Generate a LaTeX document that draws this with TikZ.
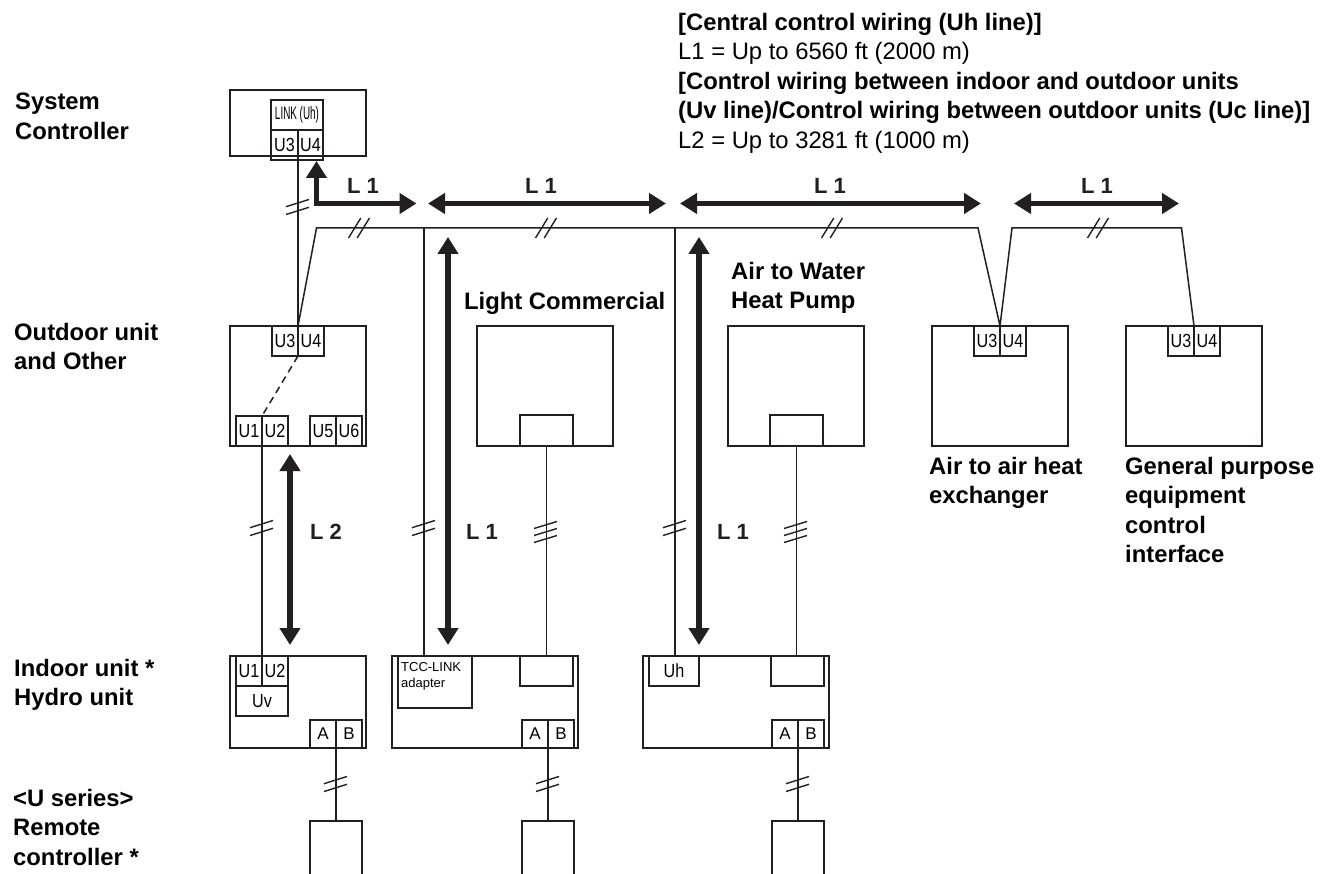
\documentclass[tikz,border=0pt]{standalone}
\usepackage{fontspec}
\setmainfont{Liberation Sans}
\newfontfamily\termfont[FakeStretch=0.85]{Liberation Sans}
\newfontfamily\linkfont[FakeStretch=0.55]{Liberation Sans}
\usetikzlibrary{arrows.meta}
\definecolor{inkdark}{HTML}{231F20}
\tikzset{
    unitbox/.style={draw=inkdark,line width=1.4pt,anchor=north west,inner sep=0pt,outer sep=0pt,minimum width=#1},
    unitbox/.default=136pt,
    termbox/.style={draw=inkdark,line width=1.3pt,anchor=north west,inner sep=0pt,outer sep=0pt,minimum width=26pt,minimum height=30pt,font=\termfont\fontsize{19}{22}\selectfont},
    plugbox/.style={termbox,minimum height=28pt,font=\fontsize{17}{20}\selectfont},
    wire/.style={inkdark,line width=1.5pt},
    tick/.style={inkdark,line width=1.4pt},
    spanarrow/.style={inkdark,line width=5.5pt,<->,>={Triangle[length=17pt,width=20pt]}},
    spanlabel/.style={inkdark,inner sep=0pt,font=\fontsize{22}{26}\selectfont\bfseries},
    notetext/.style={inner sep=0pt,anchor=north west,align=left,font=\fontsize{23.8}{29.5}\selectfont},
    rowlabel/.style={notetext,font=\fontsize{23.8}{29.5}\selectfont\bfseries},
}
\begin{document}
\begin{tikzpicture}[x=1pt,y=-1pt]
    \useasboundingbox (0,0) rectangle (1330,874);
    % text block
    \node[notetext] (noteText) at (678,13) {\textbf{[Central control wiring (Uh line)]}\\
        L1 = Up to 6560 ft (2000 m)\\
        \textbf{[Control wiring between indoor and outdoor units}\\
        \textbf{(Uv line)/Control wiring between outdoor units (Uc line)]}\\
        L2 = Up to 3281 ft (1000 m)};
    % row labels
    \node[rowlabel] (rowSystem) at (15,93) {System\\Controller};
    \node[rowlabel] (rowOutdoor) at (14,323) {Outdoor unit\\and Other};
    \node[rowlabel] (rowIndoor) at (14,659) {Indoor unit *\\Hydro unit};
    \node[rowlabel] (rowRemote) at (13,789) {<U series>\\Remote\\controller *};
    \node[rowlabel] (nameLight) at (464,292) {Light Commercial};
    \node[rowlabel] (nameWater) at (731,262) {Air to Water\\Heat Pump};
    \node[rowlabel] (nameExchanger) at (929,457) {Air to air heat\\exchanger};
    \node[rowlabel] (nameGeneral) at (1125,457) {General purpose\\equipment\\control\\interface};
    % system controller
    \node[unitbox,minimum height=66pt] (ctlBox) at (230,90) {};
    \node[termbox,minimum width=52pt,font=\linkfont\fontsize{18}{20}\selectfont] (ctlLink) at (271,100) {LINK (Uh)};
    \node[termbox,minimum width=27pt] (ctlU3) at (271,130) {U3};
    \node[termbox,minimum width=25pt] (ctlU4) at (298,130) {U4};
    % outdoor unit
    \node[unitbox,minimum height=120pt] (outBox) at (230,326) {};
    \node[termbox] (outU3) at (272,326) {U3};
    \node[termbox] (outU4) at (298,326) {U4};
    \node[termbox] (outU1) at (236,416) {U1};
    \node[termbox] (outU2) at (262,416) {U2};
    \node[termbox] (outU5) at (310,416) {U5};
    \node[termbox] (outU6) at (336,416) {U6};
    % light commercial and heat pump
    \node[unitbox,minimum height=120pt] (lightBox) at (477,326) {};
    \node[termbox,minimum width=53pt,minimum height=31pt] (lightBoard) at (520,415) {};
    \node[unitbox,minimum height=120pt] (waterBox) at (728,326) {};
    \node[termbox,minimum width=53pt,minimum height=31pt] (waterBoard) at (770,415) {};
    % exchanger and general purpose
    \node[unitbox,minimum height=120pt] (exchBox) at (932,326) {};
    \node[termbox] (exchU3) at (974,326) {U3};
    \node[termbox] (exchU4) at (1000,326) {U4};
    \node[unitbox,minimum height=120pt] (generalBox) at (1126,326) {};
    \node[termbox] (generalU3) at (1168,326) {U3};
    \node[termbox] (generalU4) at (1194,326) {U4};
    % indoor row
    \node[unitbox,minimum height=92pt] (inBox) at (230,656) {};
    \node[termbox] (inU1) at (236,656) {U1};
    \node[termbox] (inU2) at (262,656) {U2};
    \node[termbox,minimum width=52pt] (inUv) at (236,686) {Uv};
    \node[plugbox] (inA) at (310,720) {A};
    \node[plugbox] (inB) at (336,720) {B};
    \node[unitbox=186pt,minimum height=92pt] (tccBox) at (392,656) {};
    \node[termbox,minimum width=74pt,minimum height=52pt] (tccAdapter) at (398,656) {};
    \node[inner sep=0pt,anchor=north west,align=left,font=\fontsize{13}{16}\selectfont] (tccText) at (401,662) {TCC-LINK\\adapter};
    \node[termbox,minimum width=53pt] (tccTop) at (520,656) {};
    \node[plugbox] (tccA) at (522,720) {A};
    \node[plugbox] (tccB) at (548,720) {B};
    \node[unitbox=186pt,minimum height=92pt] (uhBox) at (643,656) {};
    \node[termbox,minimum width=50pt] (uhPort) at (649,656) {Uh};
    \node[termbox,minimum width=53pt] (uhTop) at (771,656) {};
    \node[plugbox] (uhA) at (772,720) {A};
    \node[plugbox] (uhB) at (798,720) {B};
    % remote controllers
    \node[termbox,minimum width=52pt,minimum height=70pt] (remoteA) at (310,821) {};
    \node[termbox,minimum width=52pt,minimum height=70pt] (remoteB) at (522,821) {};
    \node[termbox,minimum width=52pt,minimum height=70pt] (remoteC) at (772,821) {};
    % bus wiring
    \coordinate (busStart) at (316.5,228);
    \coordinate (busEnd) at (978,228);
    \coordinate (busNext) at (1012,228);
    \coordinate (busLast) at (1181.5,228);
    \coordinate (tapTcc) at (424,228);
    \coordinate (tapUh) at (675,228);
    \draw[wire] (ctlU3.south east) -- (outU3.north east);
    \draw[wire] (outU3.north east) -- (busStart) -- (busEnd) -- (exchU3.north east) -- (busNext) -- (busLast) -- (generalU3.north east);
    \draw[wire] (tapTcc) -- (tapTcc |- tccBox.north);
    \draw[wire] (tapUh) -- (tapUh |- uhBox.north);
    \draw[wire,dashed,dash pattern=on 7pt off 5pt] (outU3.south east) -- (outU1.north east);
    \draw[wire] (outU1.south east) -- (inU1.north east);
    \draw[wire] (lightBoard.south) -- (lightBoard.south |- tccTop.north);
    \draw[wire] (waterBoard.south) -- (waterBoard.south |- uhTop.north);
    \draw[wire] (inA.south east) -- (remoteA.north);
    \draw[wire] (tccA.south east) -- (remoteB.north);
    \draw[wire] (uhA.south east) -- (remoteC.north);
    % wire ticks
    \foreach \x/\y in {298/207,262/528,424/528,675/528,336/784,548/784,798/784} {
        \draw[tick] (\x-12,\y+7.5) -- (\x+11,\y+0.3);
        \draw[tick] (\x-12,\y-0.3) -- (\x+11,\y-7.5);
    }
    \foreach \x/\y in {546/532,796/532} {
        \draw[tick] (\x-12,\y+10.5) -- (\x+11,\y+3.5);
        \draw[tick] (\x-12,\y+3.5) -- (\x+11,\y-3.5);
        \draw[tick] (\x-12,\y-3.5) -- (\x+11,\y-10.5);
    }
    \foreach \x in {359,546,832,1098} {
        \draw[tick] (\x-10.5,238) -- (\x+1.8,218);
        \draw[tick] (\x-1.8,238) -- (\x+10.5,218);
    }
    % span arrows
    \coordinate (spanUp) at (316.5,161);
    \coordinate (spanCorner) at (316.5,203.5);
    \coordinate (spanRight) at (416.5,203.5);
    \draw[spanarrow] (spanUp) -- (spanCorner) -- (spanRight);
    \coordinate (spanA) at (428,203.5);
    \coordinate (spanB) at (666,203.5);
    \coordinate (spanC) at (680,203.5);
    \coordinate (spanD) at (981,203.5);
    \coordinate (spanE) at (1014,203.5);
    \coordinate (spanF) at (1179,203.5);
    \draw[spanarrow] (spanA) -- (spanB);
    \draw[spanarrow] (spanC) -- (spanD);
    \draw[spanarrow] (spanE) -- (spanF);
    \coordinate (spanG) at (290,454);
    \coordinate (spanH) at (290,645);
    \coordinate (spanI) at (448,237);
    \coordinate (spanJ) at (448,645);
    \coordinate (spanK) at (699,237);
    \coordinate (spanL) at (699,645);
    \draw[spanarrow] (spanG) -- (spanH);
    \draw[spanarrow] (spanI) -- (spanJ);
    \draw[spanarrow] (spanK) -- (spanL);
    % span labels
    \node[spanlabel] (labelOne) at (363,186) {L 1};
    \node[spanlabel] (labelTwo) at (541,186) {L 1};
    \node[spanlabel] (labelThree) at (830,186) {L 1};
    \node[spanlabel] (labelFour) at (1097,186) {L 1};
    \node[spanlabel] (labelFive) at (326,532) {L 2};
    \node[spanlabel] (labelSix) at (482,532) {L 1};
    \node[spanlabel] (labelSeven) at (733,532) {L 1};
\end{tikzpicture}
\end{document}
